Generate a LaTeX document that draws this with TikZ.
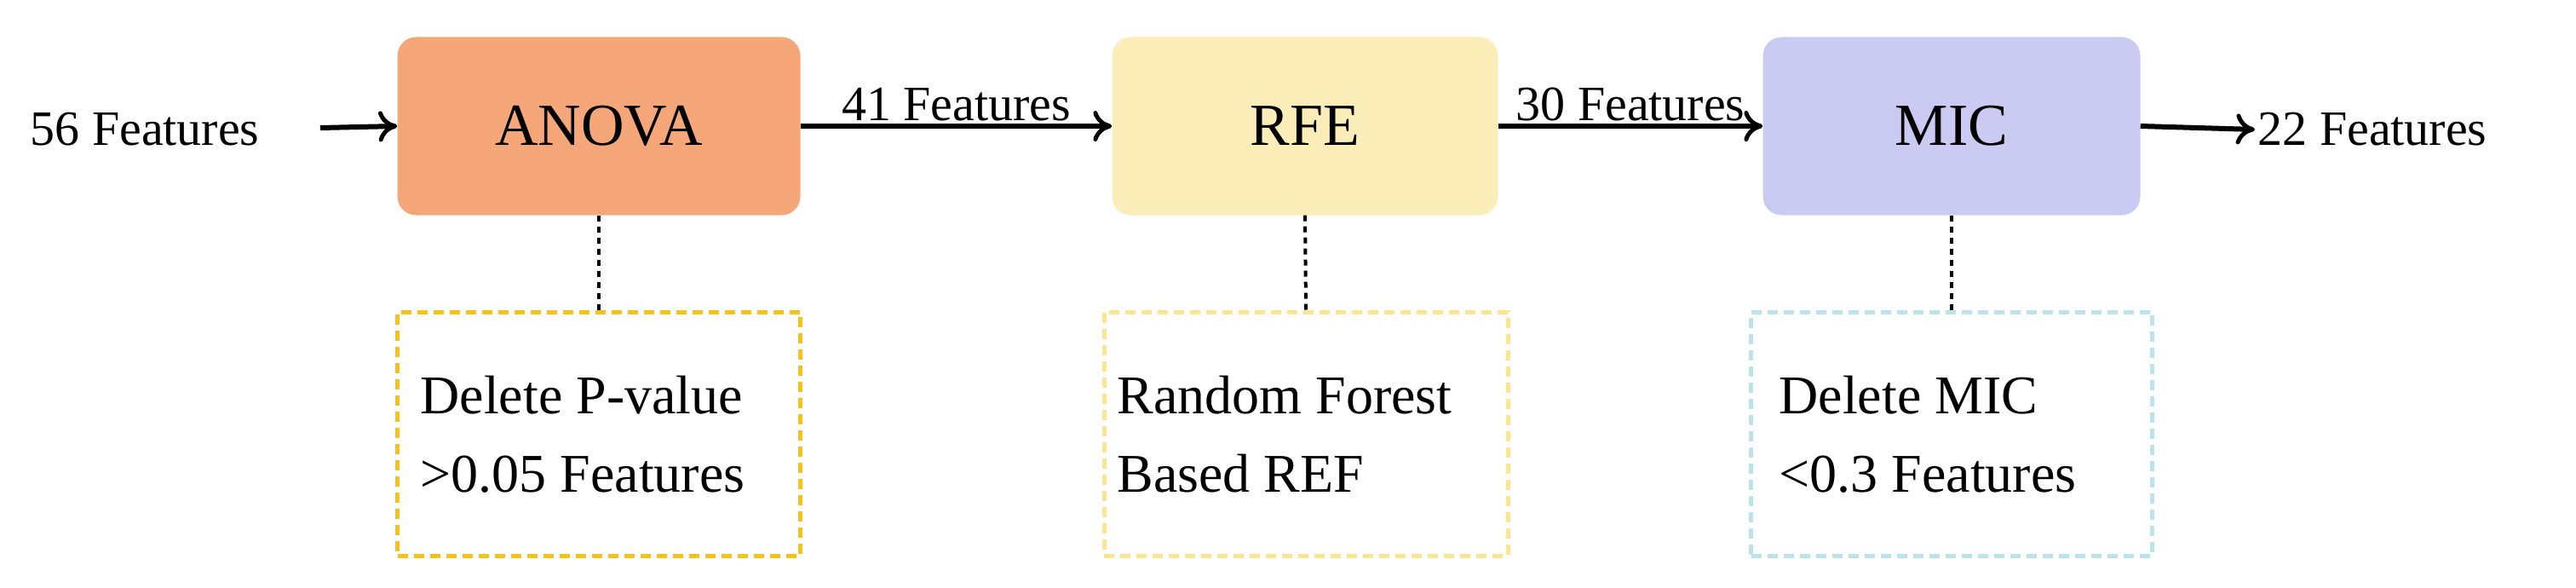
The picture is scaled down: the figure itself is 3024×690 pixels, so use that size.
\documentclass[tikz,border=0pt]{standalone}
\usepackage{fontspec}
\setmainfont{Liberation Serif}
\usetikzlibrary{arrows.meta}
\begin{document}
\begin{tikzpicture}[x=1pt,y=-1pt,
  box/.style={rounded corners=22pt,minimum width=#1,minimum height=209pt,font=\fontsize{70}{80}\selectfont},
  dbox/.style={draw=#1,line width=5pt,dash pattern=on 12pt off 7pt,minimum height=286pt,inner sep=0pt},
  lab/.style={font=\fontsize{58}{66}\selectfont},
  dtext/.style={font=\fontsize{64}{92}\selectfont,align=left,anchor=west},
  arr/.style={-{To[length=22pt,width=36pt,line width=5pt]},line width=6pt},
  dot/.style={line width=4pt,dash pattern=on 7pt off 6pt}]
\useasboundingbox (0,0) rectangle (3024,690);
\definecolor{c1}{HTML}{F6A77A}\definecolor{c2}{HTML}{FBEDB8}\definecolor{c3}{HTML}{CACAF2}
\definecolor{d1}{HTML}{F5C21B}\definecolor{d2}{HTML}{FBE591}\definecolor{d3}{HTML}{BCE3EB}
\node[box=473pt,fill=c1] (a) at (703,148) {ANOVA};
\node[box=453pt,fill=c2] (r) at (1532,148) {RFE};
\node[box=443pt,fill=c3] (m) at (2291,148) {MIC};
\node[dbox=d1,minimum width=473pt] (da) at (703,509) {};
\node[dbox=d2,minimum width=474pt] (dr) at (1533,509) {};
\node[dbox=d3,minimum width=471pt] (dm) at (2291,509) {};
\node[lab] (in) at (170,152) {56 Features};
\node[lab] (out) at (2785,152) {22 Features};
\coordinate (inend) at (376,150);
\draw[arr] (inend) -- (a.west);
\draw[arr] (a.east) -- node[lab,above=0pt] (l41) {41 Features} (r.west);
\draw[arr] (r.east) -- node[lab,above=0pt] (l30) {30 Features} (m.west);
\draw[arr] (m.east) -- (out.west);
\draw[dot] (a.south) -- (da.north);
\draw[dot] (r.south) -- (dr.north);
\draw[dot] (m.south) -- (dm.north);
\node[dtext] (ta) at (490,510) {Delete P-value\\>0.05 Features};
\node[dtext] (tr) at (1308,510) {Random Forest\\Based REF};
\node[dtext] (tm) at (2085,510) {Delete MIC\\<0.3 Features};
\end{tikzpicture}
\end{document}
